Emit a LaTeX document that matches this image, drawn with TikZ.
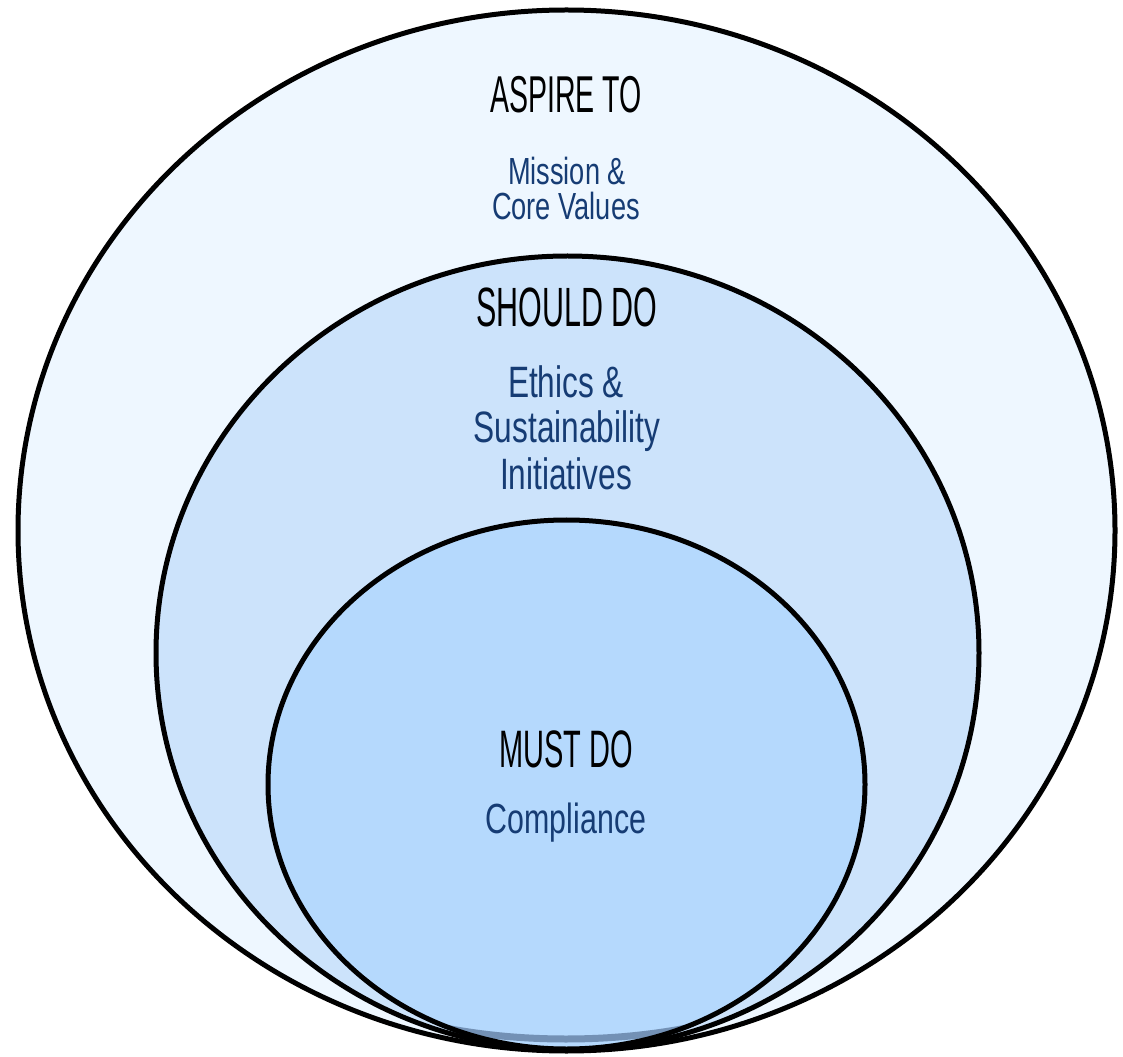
\documentclass[tikz,border=0pt]{standalone}
\usepackage{fontspec}
\setmainfont{Liberation Sans}
\newfontfamily\capsfont[FakeStretch=0.55]{Liberation Sans}
\newfontfamily\bluefont[FakeStretch=0.72]{Liberation Sans}
\usetikzlibrary{positioning}

\definecolor{aspirefill}{HTML}{EEF7FF}
\definecolor{shouldfill}{HTML}{CCE3FB}
\definecolor{mustfill}{HTML}{B5D9FD}
\definecolor{labelblue}{HTML}{163C74}
\definecolor{rimshade}{HTML}{7391B5}

\tikzset{
    ring/.style={draw=black, line width=0.1cm},
    head/.style={anchor=base, inner sep=0pt, text=black, font=\capsfont\fontsize{30}{32}\selectfont},
    sub/.style={anchor=base, inner sep=0pt, text=labelblue, font=\bluefont\fontsize{24}{26}\selectfont},
}

\begin{document}
\begin{tikzpicture}[x=0.02cm, y=-0.02cm]
                    \useasboundingbox (0,0) rectangle (1123,1057);

                    % the three circles of responsibility
                    \draw[ring, fill=aspirefill] (566.5,530.5) ellipse [x radius=548.5, y radius=520.5];
                    \draw[ring, fill=shouldfill] (567.5,653) ellipse [x radius=411.5, y radius=397];
                    \fill[mustfill] (566.5,784.5) ellipse [x radius=298.5, y radius=264.5];

                    % darker rim along the bottom of the inner one
                    \begin{scope}
                        \clip (566.5,784.5) ellipse [x radius=298.5, y radius=264.5];
                        \clip (0,990) rectangle (1123,1057);
                        \draw[rimshade, line width=0.14cm] (566,899) ellipse [x radius=310, y radius=140];
                    \end{scope}
                    \draw[ring] (566.5,784.5) ellipse [x radius=298.5, y radius=264.5];

                    \node[head, font=\capsfont\fontsize{29.5}{31}\selectfont] (aspire) at (566,113) {ASPIRE TO};
                    \node[sub, font=\bluefont\fontsize{21.5}{23}\selectfont] (mission) at (567,185) {Mission \&};
                    \node[sub, font=\bluefont\fontsize{21.5}{23}\selectfont] (values) at (566,220) {Core Values};

                    \node[head, font=\capsfont\fontsize{31.5}{33}\selectfont] (should) at (567,327) {SHOULD DO};
                    \node[sub, font=\bluefont\fontsize{25}{27}\selectfont] (ethics) at (566,398) {Ethics \&};
                    \node[sub, font=\bluefont\fontsize{25}{27}\selectfont] (sustain) at (567,443) {Sustainability};
                    \node[sub, font=\bluefont\fontsize{25}{27}\selectfont] (initiatives) at (566,490) {Initiatives};

                    \node[head] (must) at (566,767) {MUST DO};
                    \node[sub] (compliance) at (566,833) {Compliance};

                \end{tikzpicture}
\end{document}
